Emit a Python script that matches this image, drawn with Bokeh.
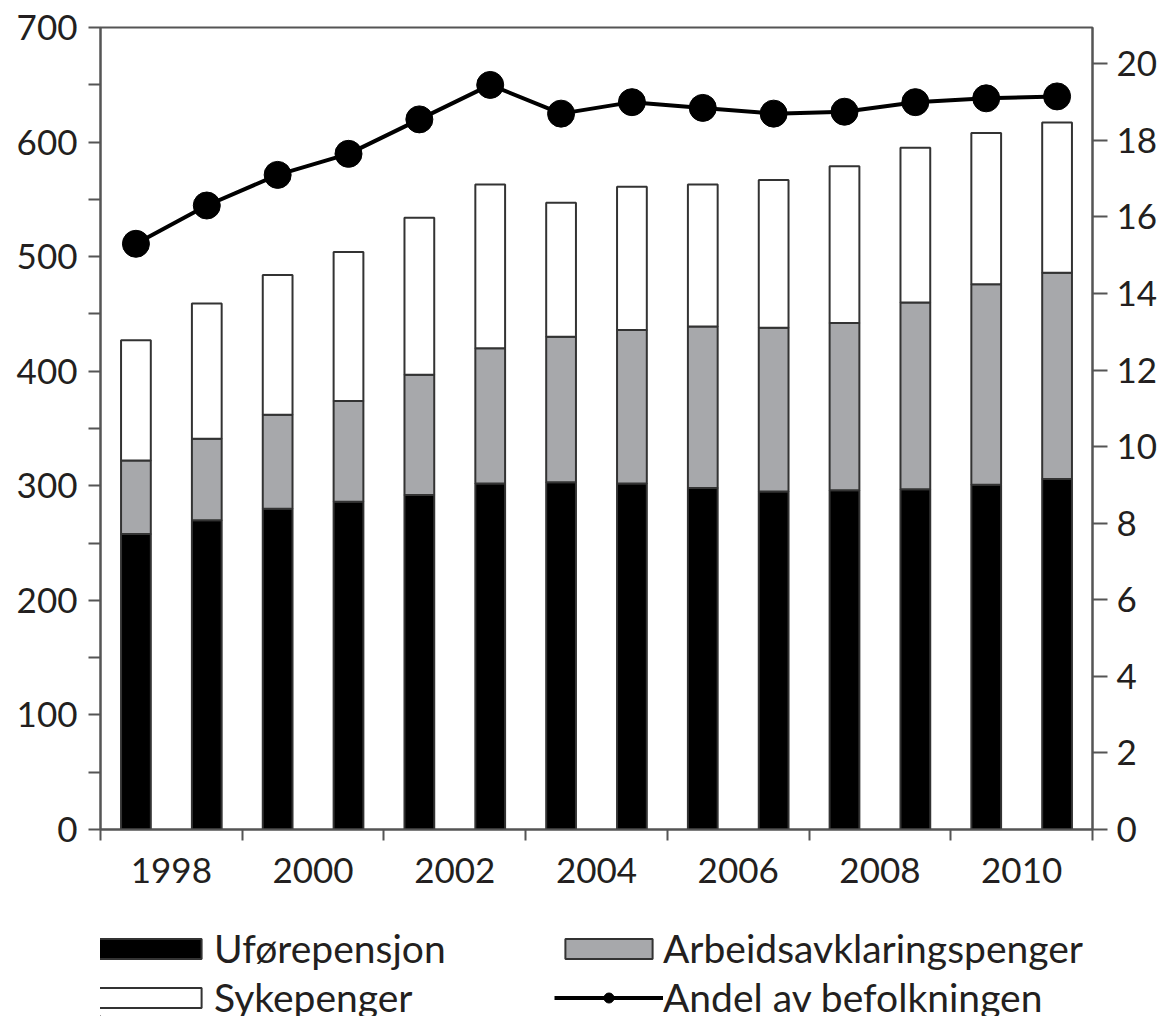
from bokeh.plotting import figure
from bokeh.layouts import column
from bokeh.models import ColumnDataSource, LinearAxis, Range1d, FixedTicker, Legend, LegendItem
from bokeh.embed import file_html
from bokeh.resources import INLINE

years = [1998, 1999, 2000, 2001, 2002, 2003, 2004, 2005, 2006, 2007, 2008, 2009, 2010, 2011]
ufore = [258, 270, 280, 286, 292, 302, 303, 302, 298, 295, 296, 297, 301, 306]
arbeid = [64, 71, 82, 88, 105, 118, 127, 134, 141, 143, 146, 163, 175, 180]
syke = [105, 118, 122, 130, 137, 143, 117, 125, 124, 129, 137, 135, 132, 131]
andel = [15.3, 16.3, 17.1, 17.65, 18.55, 19.45, 18.7, 19.0, 18.85, 18.7, 18.75, 19.0, 19.1, 19.15]
year_labels = ["1998", "2000", "2002", "2004", "2006", "2008", "2010"]
left_ticks = [0, 100, 200, 300, 400, 500, 600, 700]
right_ticks = [0, 2, 4, 6, 8, 10, 12, 14, 16, 18, 20]
series_names = ["Uførepensjon", "Arbeidsavklaringspenger", "Sykepenger", "Andel av befolkningen"]
bar_colors = ["#000000", "#a7a8ab", "#ffffff"]

TXT = "#231f20"
AX = "#555555"
BORDER = "#333333"

n = len(years)
xs = [i + 0.5 for i in range(n)]
src = ColumnDataSource(dict(x=xs, ufore=ufore, arbeid=arbeid, syke=syke, andel=andel))

p = figure(width=1160, height=904, x_range=Range1d(0, n), y_range=Range1d(0, 700),
           output_backend="svg", toolbar_location=None,
           min_border_left=100, min_border_right=67, min_border_top=27, min_border_bottom=75)
p.extra_y_ranges = {"right": Range1d(0, 20.95)}
p.xgrid.visible = False
p.ygrid.visible = False
p.outline_line_color = AX
p.outline_line_width = 2

rs = p.vbar_stack(["ufore", "arbeid", "syke"], x="x", width=0.42, source=src,
                  fill_color=bar_colors, line_color=BORDER, line_width=2)
ln = p.line("x", "andel", source=src, y_range_name="right", line_color="black", line_width=4)
sc = p.scatter("x", "andel", source=src, y_range_name="right", size=27,
               fill_color="black", line_color="black")

ax_r = LinearAxis(y_range_name="right")
p.add_layout(ax_r, "right")

yl = p.yaxis[0]
xa = p.xaxis[0]
for ax in (yl, ax_r, xa):
    ax.axis_line_color = AX
    ax.axis_line_width = 2
    ax.major_tick_line_color = AX
    ax.major_tick_line_width = 2
    ax.minor_tick_line_color = AX
    ax.minor_tick_line_width = 2
    ax.major_tick_in = 0
    ax.minor_tick_in = 0
    ax.major_label_text_font = "Lato"
    ax.major_label_text_font_size = "35px"
    ax.major_label_text_color = TXT

yl.ticker = FixedTicker(ticks=left_ticks, minor_ticks=[t + 50 for t in left_ticks[:-1]])
yl.major_tick_out = 12
yl.minor_tick_out = 12
yl.major_label_standoff = 11

ax_r.ticker = FixedTicker(ticks=right_ticks)
ax_r.major_tick_out = 15
ax_r.minor_tick_line_color = None
ax_r.major_label_standoff = 9

xa.ticker = FixedTicker(ticks=[2 * i + 1 for i in range(len(year_labels))],
                        minor_ticks=[2 * i for i in range(len(year_labels) + 1)])
xa.major_label_overrides = {2 * i + 1: lab for i, lab in enumerate(year_labels)}
xa.major_tick_line_color = None
xa.major_tick_out = 0
xa.minor_tick_out = 11
xa.major_label_standoff = 17

# legend panel (separate figure below the chart); proxy glyphs sit outside its range
lg = figure(width=1160, height=112, x_range=Range1d(0, 1), y_range=Range1d(0, 1),
            output_backend="svg", toolbar_location=None,
            x_axis_location=None, y_axis_location=None,
            min_border_left=100, min_border_right=67, min_border_top=0, min_border_bottom=0)
lg.xgrid.visible = False
lg.ygrid.visible = False
lg.outline_line_color = None

proxy = ColumnDataSource(dict(x=[-5], y=[-5], b=[-5], t=[-4]))
lr = [lg.vbar(x="x", bottom="b", top="t", width=0.42, source=proxy,
              fill_color=c, line_color=BORDER, line_width=2) for c in bar_colors]
lln = lg.line("x", "y", source=proxy, line_color="black", line_width=4)
lsc = lg.scatter("x", "y", source=proxy, size=23, fill_color="black", line_color="black")

common = dict(orientation="vertical", glyph_height=25, label_standoff=0,
              spacing=3, padding=0, margin=0, border_line_color=None,
              background_fill_alpha=0,
              label_text_font="Lato", label_text_font_size="39px", label_text_color=TXT)

leg_a = Legend(items=[LegendItem(label=series_names[0], renderers=[lr[0]]),
                      LegendItem(label=series_names[2], renderers=[lr[2]])],
               location=(-15, -4), glyph_width=129, **common)
leg_b = Legend(items=[LegendItem(label=series_names[1], renderers=[lr[1]]),
                      LegendItem(label=series_names[3], renderers=[lln, lsc])],
               location=(454, -4), glyph_width=109, **common)
lg.add_layout(leg_a, "center")
lg.add_layout(leg_b, "center")

open("out.html", "w").write(file_html(column(p, lg), INLINE))
